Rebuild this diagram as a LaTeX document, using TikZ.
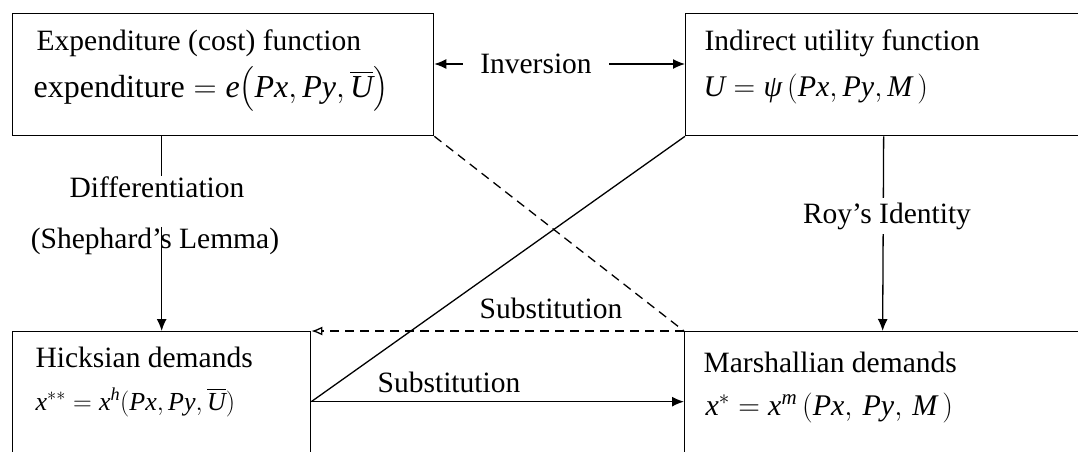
\RequirePackage{fix-cm}
\documentclass[tikz,border=0pt]{standalone}
\usepackage{amsmath}
\usepackage{fontspec}
\setmainfont{Liberation Serif}
\usetikzlibrary{arrows.meta}
\newcommand{\iv}[1]{\textit{#1}}
\begin{document}
\begin{tikzpicture}[x=1pt,y=-1pt,line width=1.3pt,
  every node/.style={font=\fontsize{29.5}{34}\selectfont},
  box/.style={draw,minimum height=122pt,anchor=north west,inner sep=0},
  txt/.style={anchor=base west,inner sep=0},
  lbl/.style={anchor=base,inner sep=0},
  tip/.style={-{Latex[length=12pt,width=10pt]}},
  dashline/.style={dash pattern=on 9pt off 6pt}]
\useasboundingbox (0,0) rectangle (1078,451);
% boxes
\node[box,minimum width=421pt] (cost) at (12,13) {};
\node[box,minimum width=396pt] (indir) at (685,13) {};
\node[box,minimum width=298pt,minimum height=140pt] (hicks) at (12,331) {};
\node[box,minimum width=396pt,minimum height=140pt] (marsh) at (684,331) {};
\node[txt] (costT) at (36,50) {Expenditure (cost) function};
\node[txt,font=\fontsize{32}{38}\selectfont] (costF) at (33,97) {expenditure${}=\iv{e}\bigl(\iv{Px},\iv{Py},\overline{\iv{U}}\bigr)$};
\node[txt] (indirT) at (704,50) {Indirect utility function};
\node[txt,font=\fontsize{30}{36}\selectfont] (indirF) at (703,96) {$\iv{U}=\iv{ψ}\,(\iv{Px},\iv{Py},\iv{M}\,)$};
\node[txt] (hicksT) at (35,367) {Hicksian demands};
\node[txt,font=\fontsize{26}{30}\selectfont] (hicksF) at (35,410) {$\iv{x}^{**}=\iv{x}^{\iv{h}}(\iv{Px},\iv{Py},\overline{\iv{U}})$};
\node[txt] (marshT) at (703,372) {Marshallian demands};
\node[txt,font=\fontsize{30}{36}\selectfont] (marshF) at (705,415) {$\iv{x}^{*}=\iv{x}^{\iv{m}}\,(\iv{Px},\,\iv{Py},\,\iv{M}\,)$};
% inversion
\node[inner sep=0,inner xsep=17pt] (inv) at (536,64) {Inversion};
\draw[tip] (inv.west) -- (cost.east |- inv.west);
\draw[tip] (inv.east) -- (indir.west |- inv.east);
% shephard
\node[lbl] (diff) at (157,197) {Differentiation};
\node[lbl] (shep) at (155,248) {(Shephard's Lemma)};
\draw (cost.south -| hicks.north) -- (diff.north -| hicks.north);
\draw[tip] (shep.north -| hicks.north) -- (hicks.north);
% roy
\draw[tip] (indir.south) -- (marsh.north);
\node[lbl,fill=white,inner ysep=5pt] (roy) at (887,223) {Roy's Identity};
% substitution
\draw (hicks.east) -- (indir.south west);
\draw[tip] (hicks.east) -- (marsh.west);
\node[lbl] (subB) at (449,392) {Substitution};
\draw[dashline] (cost.south east) -- (marsh.north west);
\draw[dashline,-{Latex[open,length=11pt,width=9pt]}] (marsh.north west) -- (hicks.north east);
\node[lbl] (subA) at (551,318) {Substitution};
\end{tikzpicture}
\end{document}
